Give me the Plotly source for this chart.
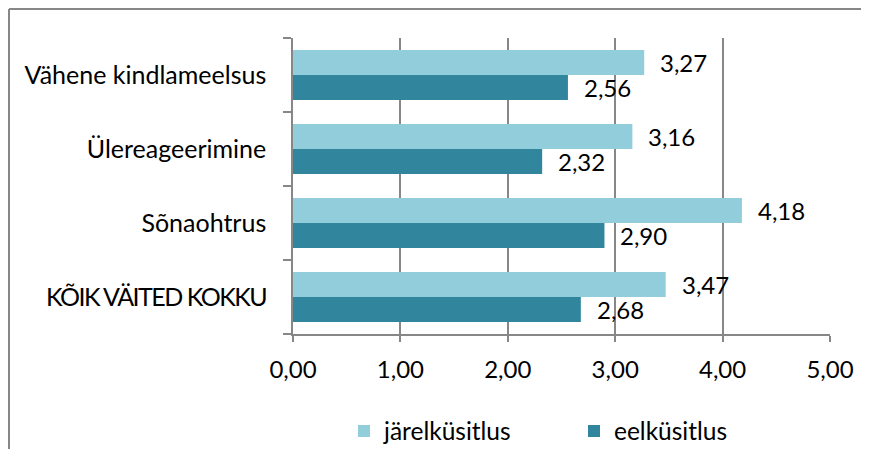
import plotly.graph_objects as go

categories = ["Vähene kindlameelsus", "Ülereageerimine", "Sõnaohtrus", "KÕIK VÄITED KOKKU"]
jarel = [3.27, 3.16, 4.18, 3.47]
eel = [2.56, 2.32, 2.90, 2.68]
series_names = ["järelküsitlus", "eelküsitlus"]
tick_vals = [0, 1, 2, 3, 4, 5]
tick_text = ["0,00", "1,00", "2,00", "3,00", "4,00", "5,00"]

LIGHT = "#92CDDC"
DARK = "#31859C"
GRID = "#878787"
FONT = "Lato"
FS_CAT = 25
FS_NUM = 24
FS_LEG = 24.5

def fmt(v):
    return f"{v:.2f}".replace(".", ",")

def cat_label(c):
    # uppercase label is set tighter, as in the reference
    if c.isupper():
        return f'<span style="letter-spacing:-1.5px">{c}</span>'
    return c

fig = go.Figure()
fig.add_trace(go.Bar(y=categories, x=jarel, orientation="h", name=series_names[0],
                     marker=dict(color=LIGHT, line=dict(width=0))))
fig.add_trace(go.Bar(y=categories, x=eel, orientation="h", name=series_names[1],
                     marker=dict(color=DARK, line=dict(width=0))))

annotations = []
for c, v in zip(categories, jarel):
    annotations.append(dict(x=v, y=c, xref="x", yref="y", text=fmt(v), showarrow=False,
                            xanchor="left", yanchor="middle", xshift=14, yshift=12.5,
                            font=dict(family=FONT, size=FS_NUM, color="#000")))
for c, v in zip(categories, eel):
    annotations.append(dict(x=v, y=c, xref="x", yref="y", text=fmt(v), showarrow=False,
                            xanchor="left", yanchor="middle", xshift=14, yshift=-12.5,
                            font=dict(family=FONT, size=FS_NUM, color="#000")))

# page body has an 8px margin; figure coordinates are screen minus 8
W, H = 853, 441
L, T = 285, 30
R = W - 822
B = H - 326
pw, ph = W - L - R, H - T - B

def px_x(p):
    return (p - L) / pw

def px_y(p):
    return (H - B - p) / ph

border = dict(color=GRID, width=2)
fig.update_layout(
    width=W, height=H,
    margin=dict(l=L, r=R, t=T, b=B, autoexpand=False),
    paper_bgcolor="white", plot_bgcolor="white",
    barmode="group", bargap=0.324, bargroupgap=0,
    font=dict(family=FONT, size=FS_NUM, color="#000"),
    showlegend=True,
    legend=dict(orientation="h", x=px_x(336), xanchor="left", y=px_y(423), yanchor="middle",
                font=dict(family=FONT, size=FS_LEG, color="#000"), itemwidth=30,
                entrywidth=185, bgcolor="rgba(0,0,0,0)", tracegroupgap=0),
    annotations=annotations,
    shapes=[
        dict(type="line", xref="paper", yref="paper", x0=px_x(1), x1=px_x(W), y0=px_y(1), y1=px_y(1),
             line=border, layer="above"),
        dict(type="line", xref="paper", yref="paper", x0=px_x(1), x1=px_x(1), y0=px_y(1), y1=px_y(H),
             line=border, layer="above"),
    ],
)
fig.update_xaxes(range=[0, 5], tickmode="array", tickvals=tick_vals, ticktext=tick_text,
                 showgrid=True, gridcolor=GRID, gridwidth=1.5, zeroline=False,
                 showline=True, linecolor=GRID, linewidth=1.5,
                 ticks="outside", ticklen=6, tickcolor=GRID, tickwidth=1.5,
                 ticklabelstandoff=7,
                 tickfont=dict(family=FONT, size=FS_NUM, color="#000"), fixedrange=True)
fig.update_yaxes(autorange="reversed", type="category", showgrid=False, zeroline=False,
                 tickmode="array", tickvals=categories, ticktext=[cat_label(c) for c in categories],
                 showline=True, linecolor=GRID, linewidth=1.5,
                 ticks="outside", ticklen=8, tickcolor=GRID, tickwidth=1.5,
                 tickson="boundaries", ticklabelstandoff=20,
                 tickfont=dict(family=FONT, size=FS_CAT, color="#000"), fixedrange=True)

fig.write_html("out.html", config={"displayModeBar": False})
